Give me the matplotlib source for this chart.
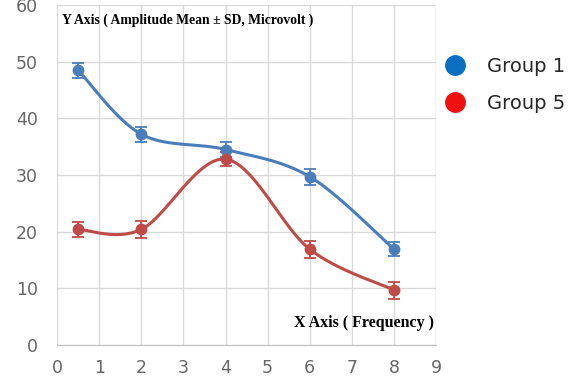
import numpy as np
import matplotlib
matplotlib.use("Agg")
import matplotlib.pyplot as plt
from matplotlib.lines import Line2D

# frequencies and amplitude (mean, SD) per group
freq = [0.5, 2, 4, 6, 8]
g1_mean = [48.5, 37.2, 34.5, 29.7, 16.9]
g1_sd = [1.3, 1.3, 1.3, 1.4, 1.2]
g5_mean = [20.4, 20.4, 32.8, 16.9, 9.7]
g5_sd = [1.3, 1.5, 1.2, 1.5, 1.5]

group_names = ["Group 1", "Group 5"]
line_colors = ["#4a7ebb", "#be4b48"]
legend_colors = ["#0a6fc2", "#f01010"]


def smooth(xs, ys, n=40):
    # Catmull-Rom curve through the points, like a spreadsheet "smoothed line"
    p = np.column_stack([xs, ys]).astype(float)
    p = np.vstack([p[0], p, p[-1]])
    out = []
    t = np.linspace(0, 1, n)[:, None]
    for i in range(1, len(p) - 2):
        p0, p1, p2, p3 = p[i - 1], p[i], p[i + 1], p[i + 2]
        seg = 0.5 * ((2 * p1) + (-p0 + p2) * t
                     + (2 * p0 - 5 * p1 + 4 * p2 - p3) * t ** 2
                     + (-p0 + 3 * p1 - 3 * p2 + p3) * t ** 3)
        out.append(seg)
    c = np.vstack(out)
    return c[:, 0], c[:, 1]


fig = plt.figure(figsize=(5.83, 3.92), dpi=100)
ax = fig.add_axes([0.098, 0.12, 0.650, 0.867])

for m, s, col in [(g1_mean, g1_sd, line_colors[0]), (g5_mean, g5_sd, line_colors[1])]:
    sx, sy = smooth(freq, m)
    ax.plot(sx, sy, color=col, lw=2.2, zorder=3)
    ax.errorbar(freq, m, yerr=s, fmt="o", color=col, ms=7.5, capsize=4.5,
                elinewidth=1.3, capthick=1.3, zorder=4)

ax.set_xlim(0, 9)
ax.set_ylim(0, 60)
ax.set_xticks(range(0, 10))
ax.set_yticks(range(0, 70, 10))
ax.grid(True, color="#d9d9d9", lw=1)
ax.set_axisbelow(True)
for side in ["top", "right", "left"]:
    ax.spines[side].set_visible(False)
ax.spines["bottom"].set_color("#bfbfbf")
ax.tick_params(length=0, labelsize=12.5, labelcolor="#666666", pad=10)
ax.tick_params(axis="y", pad=14)

ax.text(0.012, 0.975, "Y Axis ( Amplitude Mean \u00b1 SD, Microvolt )",
        transform=ax.transAxes, ha="left", va="top", family="Liberation Serif",
        fontweight="bold", fontsize=9.8)
ax.text(0.995, 0.04, "X Axis ( Frequency )", transform=ax.transAxes,
        ha="right", va="bottom", family="Liberation Serif",
        fontweight="bold", fontsize=11.5)

handles = [Line2D([], [], ls="", marker="o", ms=14, color=c) for c in legend_colors]
fig.legend(handles, group_names, loc="upper left", bbox_to_anchor=(0.717, 0.9),
           frameon=False, fontsize=14, handletextpad=0.65, labelspacing=0.95,
           labelcolor="#262626")

fig.savefig("out.png", dpi=100)
